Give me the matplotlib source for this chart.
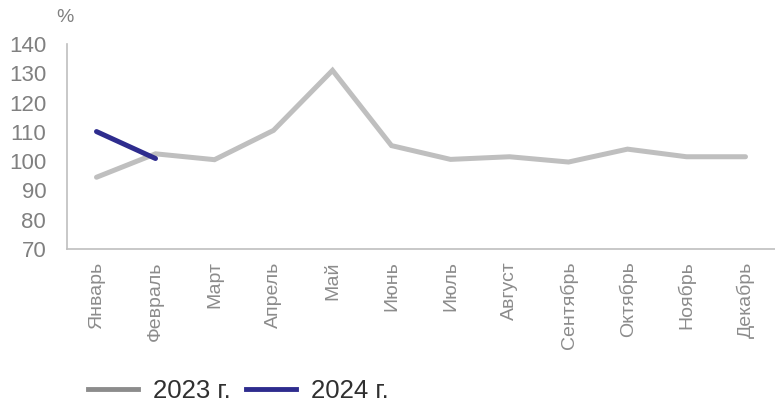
import matplotlib.pyplot as plt
from matplotlib.lines import Line2D

months = ['Январь', 'Февраль', 'Март', 'Апрель', 'Май', 'Июнь', 'Июль',
          'Август', 'Сентябрь', 'Октябрь', 'Ноябрь', 'Декабрь']
y2023 = [94.5, 102.5, 100.5, 110.5, 131, 105.3, 100.6, 101.5, 99.7, 104.1, 101.5, 101.5]
y2024 = [110.1, 100.9]
yticks = [70, 80, 90, 100, 110, 120, 130, 140]

plt.rcParams['font.family'] = ['Liberation Sans', 'DejaVu Sans']

fig = plt.figure(figsize=(7.75, 4.03), dpi=100)
ax = fig.add_axes([67 / 775, 1 - 249 / 403, 1 - 67 / 775, 205 / 403])

x = list(range(len(months)))
ax.plot(x, y2023, color='#bfbfbf', lw=3.6, solid_capstyle='round', solid_joinstyle='miter')
ax.plot(x[:len(y2024)], y2024, color='#2e2c8e', lw=3.6, solid_capstyle='round')

ax.set_xlim(-0.5, len(months) - 0.5)
ax.set_ylim(70, 140)
ax.set_yticks(yticks)
ax.set_xticks(x)
ax.set_xticklabels(months, rotation=90, fontsize=14, color='#8c8c8c')
ax.tick_params(axis='y', length=0, pad=15, labelsize=16, labelcolor='#808080')
ax.tick_params(axis='x', length=0, pad=9)

for s in ['top', 'right']:
    ax.spines[s].set_visible(False)
for s in ['left', 'bottom']:
    ax.spines[s].set_color('#bfbfbf')
    ax.spines[s].set_linewidth(1.2)

fig.text(65 / 775, 1 - 18 / 403, '%', fontsize=14, color='#808080', va='center', ha='center')

handles = [Line2D([0], [0], color='#8c8c8c', lw=3.5),
           Line2D([0], [0], color='#2e2c8e', lw=3.5)]
fig.legend(handles, ['2023 г.', '2024 г.'], loc='center left',
           bbox_to_anchor=(88 / 775, 1 - 391 / 403), ncol=2, frameon=False,
           fontsize=18.5, handlelength=1.95, handletextpad=0.58, columnspacing=0.58,
           borderpad=0, borderaxespad=0, labelcolor='#303030')

fig.savefig('out.png', dpi=100)
